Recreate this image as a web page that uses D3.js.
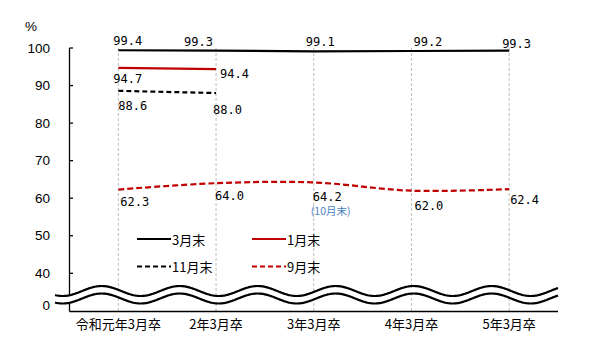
<!DOCTYPE html>
<html><head><meta charset="utf-8">
<script src="https://cdn.jsdelivr.net/npm/d3@7"></script>
<style>body{margin:0;background:#fff}svg{display:block}</style>
</head><body>
<svg id="c" width="604" height="357"></svg>
<script>
const categories = ["令和元年3月卒","2年3月卒","3年3月卒","4年3月卒","5年3月卒"];
const march = [99.4, 99.3, 99.1, 99.2, 99.3];        // 3月末
const january = [94.7, 94.4];                          // 1月末
const november = [88.6, 88.0];                         // 11月末
const september = [62.3, 64.0, 64.2, 62.0, 62.4];     // 9月末
const yTicks = [100, 90, 80, 70, 60, 50, 40];
const seriesNames = ["3月末","1月末","11月末","9月末"];
// label offsets (dx, dy) relative to data point
const marchOff = [[-5,-9],[-32,-9],[-8,-9],[2,-9],[-7,-7]];
const janOff = [[-5,11],[4,5]];
const novOff = [[0,15],[-3,17]];
const sepOff = [[2,12],[-1,13],[-1,15],[3,15],[1,11]];

const svg = d3.select("#c");
const x = d3.scalePoint().domain(categories).range([69.5, 558]).padding(0.5);
const y = d3.scaleLinear().domain([40, 100]).range([273.3, 48]);
const axisX = 69.5, axisBottom = 311.5, axisRight = 558;
const red = "#c00000";
const monoFont = "'DejaVu Sans Mono', monospace";
const jpFont = "'Noto Sans CJK JP', sans-serif";

// gridlines
svg.append("g").selectAll("line").data(categories).join("line")
  .attr("x1", d => x(d)).attr("x2", d => x(d))
  .attr("y1", y(100)).attr("y2", axisBottom)
  .attr("stroke", "#bdbdbd").attr("stroke-width", 1).attr("stroke-dasharray", "3,2");

function drawSeries(vals, color, dash, curve) {
  const pts = vals.map((v, i) => [x(categories[i]), y(v)]);
  svg.append("path").datum(pts)
    .attr("d", d3.line().curve(curve || d3.curveLinear))
    .attr("fill", "none").attr("stroke", color).attr("stroke-width", 2.2)
    .attr("stroke-dasharray", dash || null);
}
drawSeries(march, "#000");
drawSeries(january, red);
drawSeries(november, "#000", "5,3");
drawSeries(september, red, "6,3", d3.curveCatmullRom);

function labels(vals, off) {
  svg.append("g").selectAll("text").data(vals).join("text")
    .attr("x", (v, i) => x(categories[i]) + off[i][0])
    .attr("y", (v, i) => y(v) + off[i][1])
    .attr("dominant-baseline", "central")
    .attr("font-family", monoFont).attr("font-size", 12).attr("fill", "#000")
    .text(v => v.toFixed(1));
}
labels(march, marchOff);
labels(january, janOff);
labels(november, novOff);
labels(september, sepOff);

svg.append("text").attr("x", x(categories[2]) - 3).attr("y", y(september[2]) + 28)
  .attr("dominant-baseline", "central").attr("font-family", jpFont)
  .attr("font-size", 10.5).attr("fill", "#4a7fc1").text("(10月末)");

// legend
const legend = [
  {name: seriesNames[0], color: "#000", dash: null, lx: 137, ly: 239},
  {name: seriesNames[1], color: red, dash: null, lx: 252, ly: 239},
  {name: seriesNames[2], color: "#000", dash: "5,3", lx: 137, ly: 266.5},
  {name: seriesNames[3], color: red, dash: "5,3", lx: 252, ly: 266.5}
];
const lg = svg.append("g").selectAll("g").data(legend).join("g");
lg.append("line").attr("x1", d => d.lx).attr("x2", d => d.lx + 34)
  .attr("y1", d => d.ly).attr("y2", d => d.ly)
  .attr("stroke", d => d.color).attr("stroke-width", 2.2).attr("stroke-dasharray", d => d.dash);
lg.append("text").attr("x", d => d.lx + 35).attr("y", d => d.ly)
  .attr("dominant-baseline", "central").attr("font-family", jpFont).attr("font-size", 13)
  .text(d => d.name);

// y axis
svg.append("line").attr("x1", axisX).attr("x2", axisX).attr("y1", y(100)).attr("y2", axisBottom)
  .attr("stroke", "#000").attr("stroke-width", 1.3);
svg.append("line").attr("x1", axisX).attr("x2", axisRight).attr("y1", axisBottom).attr("y2", axisBottom)
  .attr("stroke", "#000").attr("stroke-width", 1.3);
const yt = svg.append("g").selectAll("g").data(yTicks).join("g");
yt.append("line").attr("x1", axisX).attr("x2", axisX + 3.5).attr("y1", d => y(d)).attr("y2", d => y(d))
  .attr("stroke", "#000").attr("stroke-width", 1.3);
yt.append("text").attr("x", 50).attr("y", d => y(d)).attr("text-anchor", "end")
  .attr("dominant-baseline", "central").attr("font-family", "'Liberation Sans', Arial, sans-serif")
  .attr("font-size", 13.5).text(d => d);
svg.append("text").attr("x", 50).attr("y", 305).attr("text-anchor", "end")
  .attr("dominant-baseline", "central").attr("font-family", "'Liberation Sans', Arial, sans-serif")
  .attr("font-size", 13.5).text("0");
svg.append("text").attr("x", 25).attr("y", 26)
  .attr("dominant-baseline", "central").attr("font-family", "'Liberation Sans', Arial, sans-serif")
  .attr("font-size", 13.5).text("%");

// x labels
svg.append("g").selectAll("text").data(categories).join("text")
  .attr("x", d => x(d)).attr("y", 323).attr("text-anchor", "middle")
  .attr("dominant-baseline", "central").attr("font-family", jpFont).attr("font-size", 13)
  .text(d => d);

// wave break
const wx0 = 55, wx1 = 558, gap = 7.5;
const wave = d3.range(wx0, wx1 + 0.5, 1).map(px => [px, 291 - 5 * Math.cos(2 * Math.PI * (px - 101.7) / 78)]);
const lower = wave.map(p => [p[0], p[1] + gap]);
svg.append("path").attr("d", d3.line()(wave.concat(lower.slice().reverse())) + "Z")
  .attr("fill", "#fff").attr("stroke", "none");
[wave, lower].forEach(w => svg.append("path").attr("d", d3.line()(w))
  .attr("fill", "none").attr("stroke", "#000").attr("stroke-width", 2.2));
</script>
</body></html>
